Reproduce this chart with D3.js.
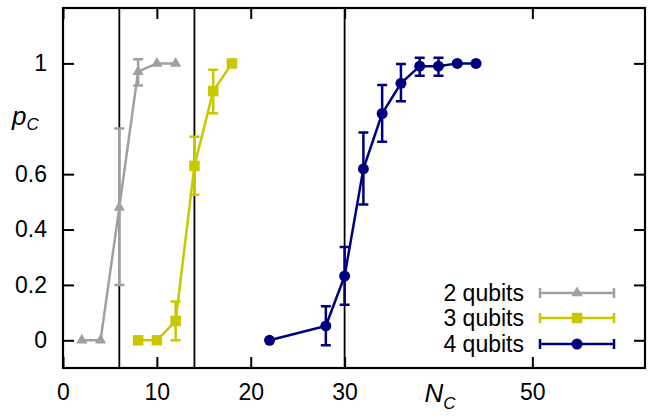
<!DOCTYPE html>
<html>
<head>
<meta charset="utf-8">
<script src="https://cdn.jsdelivr.net/npm/d3@7/dist/d3.min.js"></script>
<style>
  body { margin: 0; background: #fff; }
  svg text { font-family: "Liberation Sans", Arial, sans-serif; }
</style>
</head>
<body>
<svg id="chart" width="652" height="418"></svg>
<script>
  /* data */
  const x2 = [2, 4, 6, 8, 10, 12];
  const y2 = [0, 0, 0.48, 0.97, 1, 1];
  const lo2 = [null, null, 0.2, 0.92, null, null];
  const hi2 = [null, null, 0.765, 1.015, null, null];

  const x3 = [8, 10, 12, 14, 16, 18];
  const y3 = [0, 0, 0.07, 0.63, 0.9, 1];
  const lo3 = [null, null, 0.0, 0.526, 0.82, null];
  const hi3 = [null, null, 0.14, 0.735, 0.977, null];

  const x4 = [22, 28, 30, 32, 34, 36, 38, 40, 42, 44];
  const y4 = [0, 0.052, 0.232, 0.619, 0.819, 0.928, 0.99, 0.99, 1, 1];
  const lo4 = [null, -0.018, 0.128, 0.49, 0.717, 0.863, 0.955, 0.955, null, null];
  const hi4 = [null, 0.123, 0.337, 0.75, 0.922, 0.998, 1.02, 1.02, null, null];

  const xTicks = [0, 10, 20, 30, 50];
  const yTicks = [0, 0.2, 0.4, 0.6, 1];
  const vLines = [6, 14, 30];

  const series = [
    { name: "2 qubits", color: "#a0a0a0", shape: "triangle", x: x2, y: y2, lo: lo2, hi: hi2 },
    { name: "3 qubits", color: "#c8c800", shape: "square", x: x3, y: y3, lo: lo3, hi: hi3 },
    { name: "4 qubits", color: "#00007f", shape: "circle", x: x4, y: y4, lo: lo4, hi: hi4 }
  ];

  const margin = { top: 8, left: 63, right: 7, bottom: 50 };
  const W = 652, H = 418;
  const width = W - margin.left - margin.right;
  const height = H - margin.top - margin.bottom;

  const xScale = d3.scaleLinear().domain([0, 62]).range([0, width]);
  const yScale = d3.scaleLinear().domain([-0.1, 1.2]).range([height, 0]);

  const svg = d3.select('#chart')
    .append('g')
    .attr('transform', `translate(${margin.left},${margin.top})`);

  // vertical guide lines
  svg.selectAll('.vline')
    .data(vLines)
    .enter()
    .append('line')
    .attr('x1', d => xScale(d)).attr('x2', d => xScale(d))
    .attr('y1', 0).attr('y2', height)
    .attr('stroke', '#000').attr('stroke-width', 1.8);

  // axes with inward ticks, mirrored
  const fmt = d => d3.format('')(d);
  svg.append('g')
    .attr('transform', `translate(0,${height})`)
    .call(d3.axisBottom(xScale).tickValues(xTicks).tickSize(-11).tickPadding(16).tickFormat(fmt));
  svg.append('g')
    .call(d3.axisTop(xScale).tickValues(xTicks).tickSize(-11).tickFormat(''));
  svg.append('g')
    .call(d3.axisLeft(yScale).tickValues(yTicks).tickSize(-11).tickPadding(16).tickFormat(fmt));
  svg.append('g')
    .attr('transform', `translate(${width},0)`)
    .call(d3.axisRight(yScale).tickValues(yTicks).tickSize(-11).tickFormat(''));

  svg.selectAll('.domain').remove();
  svg.selectAll('.tick line').attr('stroke', '#000').attr('stroke-width', 2);
  svg.selectAll('.tick text').attr('font-size', 23).attr('fill', '#000');

  svg.append('rect')
    .attr('width', width).attr('height', height)
    .attr('fill', 'none').attr('stroke', '#000').attr('stroke-width', 2.2);

  // axis labels
  const yl = svg.append('text')
    .attr('x', -51).attr('y', yScale(0.8) + 6)
    .attr('font-family', '"DejaVu Serif", serif')
    .attr('font-style', 'italic').attr('font-size', 26);
  yl.append('tspan').text('p');
  yl.append('tspan').attr('font-size', 17).attr('dy', 5).text('C');

  const xl = svg.append('text')
    .attr('x', xScale(40) - 14).attr('y', height + 34)
    .attr('font-family', '"DejaVu Serif", serif')
    .attr('font-style', 'italic').attr('font-size', 26);
  xl.append('tspan').text('N');
  xl.append('tspan').attr('font-size', 17).attr('dy', 7).text('C');

  const symbol = s => d3.symbol()
    .type(s === 'triangle' ? d3.symbolTriangle : s === 'square' ? d3.symbolSquare : d3.symbolCircle)
    .size(s === 'triangle' ? 55 : s === 'square' ? 110 : 95);

  const line = d3.line().x(d => xScale(d.x)).y(d => yScale(d.y));
  const cap = 5;

  series.forEach(s => {
    const pts = s.x.map((x, i) => ({ x: x, y: s.y[i], lo: s.lo[i], hi: s.hi[i] }));
    const g = svg.append('g');

    g.append('path')
      .datum(pts)
      .attr('d', line)
      .attr('fill', 'none').attr('stroke', s.color).attr('stroke-width', 2.5);

    g.selectAll('.err')
      .data(pts.filter(d => d.lo !== null))
      .enter()
      .append('path')
      .attr('d', d => {
        const x = xScale(d.x), y1 = yScale(d.lo), y2 = yScale(d.hi);
        return `M${x},${y1}V${y2}M${x - cap},${y1}H${x + cap}M${x - cap},${y2}H${x + cap}`;
      })
      .attr('fill', 'none').attr('stroke', s.color).attr('stroke-width', 2.5);

    g.selectAll('.pt')
      .data(pts)
      .enter()
      .append('path')
      .attr('transform', d => `translate(${xScale(d.x)},${yScale(d.y)})`)
      .attr('d', symbol(s.shape))
      .attr('fill', s.color);
  });

  // legend
  const legY = [293, 318, 344];
  series.forEach((s, i) => {
    const y = legY[i] - margin.top;
    const lg = svg.append('g');
    lg.append('text')
      .attr('x', 524 - margin.left).attr('y', y + 8)
      .attr('text-anchor', 'end').attr('font-size', 23).attr('fill', '#000')
      .text(s.name);
    const x1 = 540 - margin.left, x2 = 614 - margin.left;
    lg.append('path')
      .attr('d', `M${x1},${y}H${x2}M${x1},${y - 5}V${y + 5}M${x2},${y - 5}V${y + 5}`)
      .attr('fill', 'none').attr('stroke', s.color).attr('stroke-width', 2.5);
    lg.append('path')
      .attr('transform', `translate(${(x1 + x2) / 2},${y})`)
      .attr('d', symbol(s.shape))
      .attr('fill', s.color);
  });
</script>
</body>
</html>
